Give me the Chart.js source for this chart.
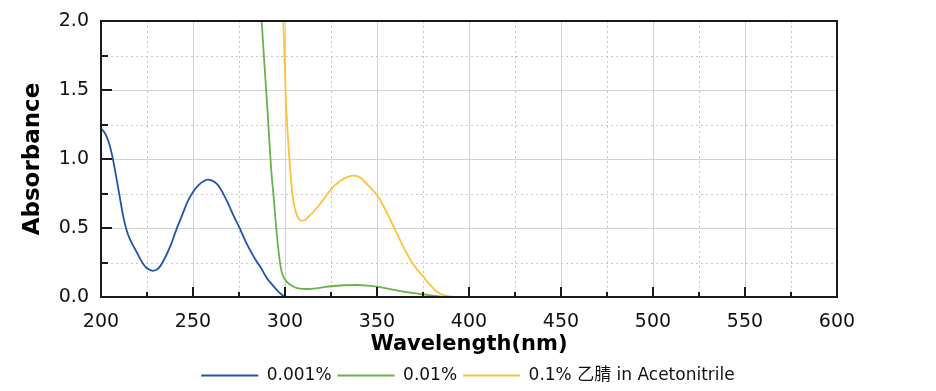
<!DOCTYPE html>
<html>
<head>
<meta charset="utf-8">
<script src="https://cdn.jsdelivr.net/npm/chart.js@4/dist/chart.umd.min.js"></script>
<style>
  html, body { margin: 0; padding: 0; background: #ffffff; }
  canvas { display: block; }
</style>
</head>
<body>
<canvas id="c" width="936" height="391"></canvas>
<script>
// ---- Data ----
const seriesNames = ['0.001%', '0.01%', '0.1% 乙腈 in Acetonitrile'];

const wl001 = [200, 202, 204, 206, 208, 210, 212, 214, 216, 218, 220, 222, 224, 226, 228, 230, 232, 235, 238, 241, 244, 247, 250, 253, 256, 258, 260, 263, 266, 269, 272, 275, 278, 281, 284, 287, 290, 293, 296, 298, 300, 302, 340, 600];
const abs001 = [1.22, 1.19, 1.13, 1.03, 0.89, 0.74, 0.59, 0.48, 0.41, 0.36, 0.31, 0.26, 0.22, 0.20, 0.19, 0.195, 0.22, 0.29, 0.38, 0.49, 0.59, 0.69, 0.76, 0.81, 0.84, 0.85, 0.845, 0.82, 0.76, 0.68, 0.59, 0.51, 0.42, 0.34, 0.27, 0.21, 0.14, 0.09, 0.045, 0.02, 0.005, 0, 0, 0];

const wl01 = [285, 287.3, 289, 290.5, 292.4, 294, 295.5, 297.6, 299, 301, 304, 308, 312, 318, 325, 332, 339, 345, 350, 356, 362.5, 369, 375, 380, 385, 390, 600];
const abs01 = [2.5, 2.0, 1.65, 1.35, 0.94, 0.70, 0.46, 0.22, 0.15, 0.11, 0.08, 0.06, 0.058, 0.065, 0.078, 0.085, 0.087, 0.083, 0.075, 0.06, 0.043, 0.03, 0.02, 0.01, 0.003, 0, 0];

const wl1 = [298, 299.1, 300.5, 302.7, 304.5, 306, 307.5, 309, 311, 313, 316, 320, 325, 330, 334, 337.5, 341, 344.4, 348, 351, 355, 359, 363, 366, 370, 375, 379, 382.4, 385, 388, 392, 600];
const abs1 = [2.4, 2.0, 1.43, 0.94, 0.70, 0.61, 0.565, 0.553, 0.56, 0.585, 0.625, 0.69, 0.78, 0.84, 0.87, 0.88, 0.865, 0.82, 0.77, 0.72, 0.62, 0.51, 0.40, 0.32, 0.23, 0.15, 0.085, 0.04, 0.02, 0.008, 0, 0];

const xTitle = 'Wavelength(nm)';
const yTitle = 'Absorbance';

// ---- Build ----
const toPts = (xs, ys) => xs.map((x, i) => ({ x: x, y: ys[i] }));
const FONT = "'DejaVu Sans', 'Noto Sans CJK SC', sans-serif";

const frameGrid = {
  id: 'frameGrid',
  beforeDatasetsDraw(chart) {
    const { ctx, chartArea: a, scales: { x, y } } = chart;
    ctx.save();
    ctx.lineWidth = 1;
    for (let v = x.min + 25; v < x.max; v += 25) {
      const px = Math.round(x.getPixelForValue(v)) + 0.5;
      const major = (v % 50) === 0;
      ctx.strokeStyle = major ? '#d2d2d2' : '#c8c8c8';
      ctx.setLineDash(major ? [] : [2, 3]);
      ctx.beginPath(); ctx.moveTo(px, a.top); ctx.lineTo(px, a.bottom); ctx.stroke();
    }
    for (let k = 1; k < 8; k++) {
      const v = y.min + k * 0.25;
      const py = Math.round(y.getPixelForValue(v)) + 0.5;
      const major = (k % 2) === 0;
      ctx.strokeStyle = major ? '#d2d2d2' : '#c8c8c8';
      ctx.setLineDash(major ? [] : [2, 3]);
      ctx.beginPath(); ctx.moveTo(a.left, py); ctx.lineTo(a.right, py); ctx.stroke();
    }
    ctx.restore();
  },
  afterDatasetsDraw(chart) {
    const { ctx, chartArea: a, scales: { x, y } } = chart;
    ctx.save();
    ctx.setLineDash([]);
    ctx.strokeStyle = '#1a1a1a';
    ctx.lineWidth = 2;
    for (let v = x.min + 25; v < x.max; v += 25) {
      const px = Math.round(x.getPixelForValue(v));
      const len = (v % 50) === 0 ? 10 : 5;
      ctx.beginPath(); ctx.moveTo(px, a.bottom); ctx.lineTo(px, a.bottom - len); ctx.stroke();
    }
    for (let k = 1; k < 8; k++) {
      const v = y.min + k * 0.25;
      const py = Math.round(y.getPixelForValue(v));
      const len = (k % 2) === 0 ? 11 : 7;
      ctx.beginPath(); ctx.moveTo(a.left, py); ctx.lineTo(a.left + len, py); ctx.stroke();
    }
    ctx.strokeRect(a.left, a.top, a.right - a.left, a.bottom - a.top);
    ctx.restore();
  }
};

new Chart(document.getElementById('c'), {
  type: 'line',
  data: {
    datasets: [
      { label: seriesNames[0], data: toPts(wl001, abs001), borderColor: '#2255a4', backgroundColor: '#2255a4', borderWidth: 1.8, pointRadius: 0, cubicInterpolationMode: 'monotone' },
      { label: seriesNames[1], data: toPts(wl01, abs01), borderColor: '#6ab24a', backgroundColor: '#6ab24a', borderWidth: 1.8, pointRadius: 0, cubicInterpolationMode: 'monotone' },
      { label: seriesNames[2], data: toPts(wl1, abs1), borderColor: '#ffc13b', backgroundColor: '#ffc13b', borderWidth: 1.8, pointRadius: 0, cubicInterpolationMode: 'monotone' }
    ]
  },
  options: {
    responsive: false,
    animation: false,
    devicePixelRatio: 1,
    parsing: false,
    layout: { padding: { top: 21, left: 0, right: 0, bottom: -3 } },
    plugins: {
      tooltip: { enabled: false },
      legend: {
        position: 'bottom',
        labels: {
          usePointStyle: true,
          pointStyle: 'line',
          pointStyleWidth: 57,
          padding: 6,
          color: '#111',
          font: { family: FONT, size: 17 }
        }
      }
    },
    scales: {
      x: {
        type: 'linear', min: 200, max: 600,
        grid: { display: false, drawTicks: false },
        border: { display: false },
        ticks: { stepSize: 50, padding: 14, color: '#111', font: { family: FONT, size: 19 }, maxRotation: 0 },
        title: { display: true, text: xTitle, color: '#000', font: { family: FONT, size: 21, weight: 'bold' }, padding: { top: 0, bottom: 4 } },
        afterFit(s) { s.height = 64; s.paddingLeft = 0; s.paddingRight = 0; }
      },
      y: {
        type: 'linear', min: 0, max: 2,
        grid: { display: false, drawTicks: false },
        border: { display: false },
        ticks: { stepSize: 0.5, padding: 12, color: '#111', font: { family: FONT, size: 19 }, callback: v => v.toFixed(1) },
        title: { display: true, text: yTitle, color: '#000', font: { family: FONT, size: 23, weight: 'bold' }, padding: { top: 19, bottom: 0 } },
        afterFit(s) { s.width = 101; s.paddingTop = 0; s.paddingBottom = 0; }
      },
      yR: {
        type: 'linear', position: 'right', display: true,
        grid: { display: false, drawTicks: false },
        border: { display: false },
        ticks: { display: false },
        afterFit(s) { s.width = 99; s.paddingTop = 0; s.paddingBottom = 0; }
      }
    }
  },
  plugins: [frameGrid]
});
</script>
</body>
</html>
